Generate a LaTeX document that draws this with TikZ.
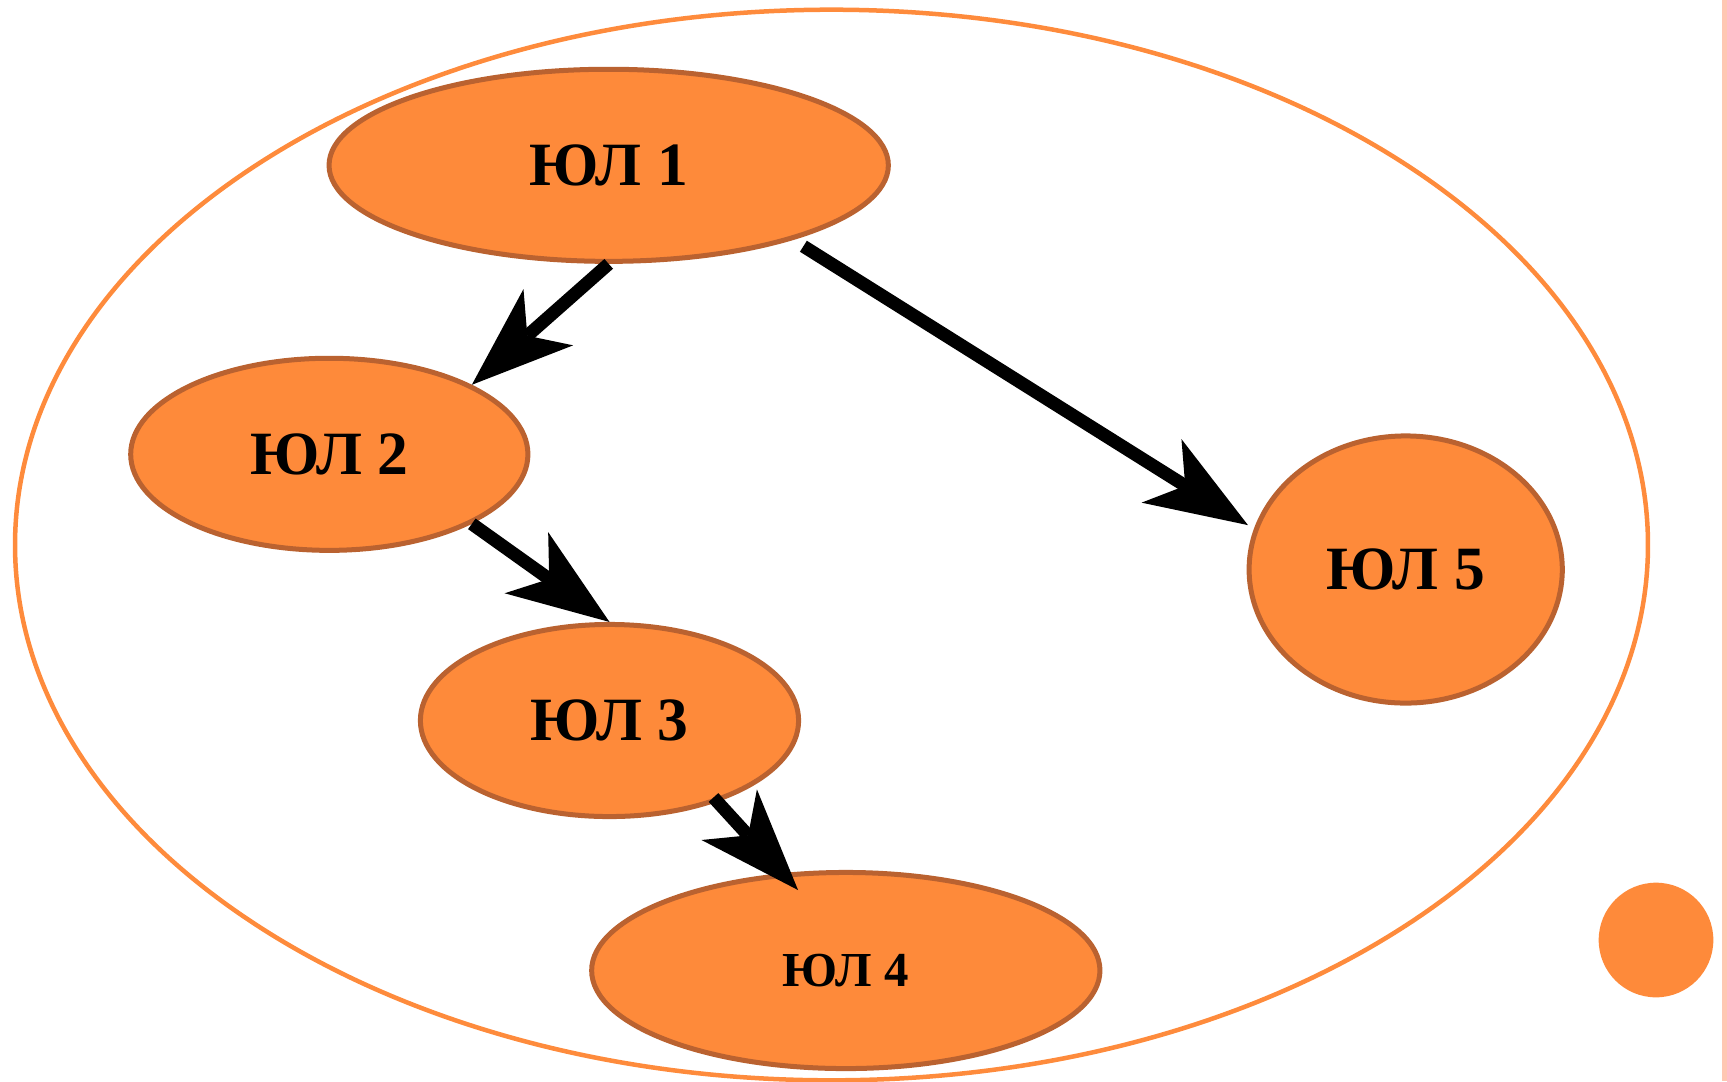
\documentclass[tikz,border=0pt]{standalone}
\usepackage{fontspec}
\setmainfont{Liberation Serif}
\usetikzlibrary{shapes.geometric,arrows.meta}
\definecolor{ndfill}{RGB}{254,138,58}
\definecolor{ndborder}{RGB}{186,98,48}
\definecolor{outerc}{RGB}{254,139,60}
\definecolor{pinkc}{RGB}{255,199,179}
\begin{document}
\begin{tikzpicture}[x=0.01cm,y=-0.01cm,
  nd/.style={ellipse, draw=ndborder, fill=ndfill, line width=0.05cm, inner sep=0pt,
    font=\bfseries\fontsize{17.5}{20}\selectfont},
  outerring/.style={ellipse, draw=outerc, line width=0.045cm, inner sep=0pt},
  dotnode/.style={circle, fill=ndfill, draw=none, inner sep=0pt},
  arr/.style={line width=0.13cm, draw=black,
    -{Stealth[length=1.02cm,width=0.75cm,inset=0.28cm,line width=0pt]}}
]
\useasboundingbox (0,0) rectangle (1727,1081);
\fill[pinkc] (1721.7,0) rectangle (1727,1081);
\node[outerring, minimum width=16.32cm, minimum height=10.70cm] (outer) at (831.5,545) {};
\node[dotnode, minimum size=1.146cm] (dot) at (1656,940) {};

\node[nd, minimum width=5.59cm, minimum height=1.92cm] (n1) at (608.7,165.3) {ЮЛ 1};
\node[nd, minimum width=3.97cm, minimum height=1.92cm] (n2) at (329.3,454.3) {ЮЛ 2};
\node[nd, minimum width=3.78cm, minimum height=1.92cm] (n3) at (609.5,720.5) {ЮЛ 3};
\node[nd, minimum width=5.08cm, minimum height=1.96cm,
  font=\bfseries\fontsize{13.9}{16}\selectfont] (n4) at (845.8,970.5) {ЮЛ 4};
\node[nd, minimum width=3.13cm, minimum height=2.67cm] (n5) at (1405.7,569.5) {ЮЛ 5};

\draw[arr] (n1.south) -- (n2.26);
\draw[arr] (n2.-26) -- (n3.north);
\draw[arr, shorten <=-0.06cm, shorten >=-0.23cm] (n3.-37) -- (n4.123.4);
\draw[arr, shorten <=0.12cm, shorten >=0.07cm] (n1.-22) -- (n5.165);
\end{tikzpicture}
\end{document}
